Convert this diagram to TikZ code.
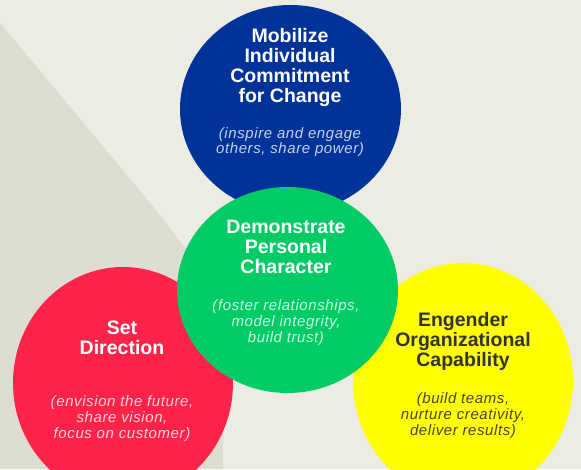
\documentclass[tikz,border=0pt]{standalone}
\usepackage{fontspec}
\setmainfont{Liberation Sans}
\newfontfamily\hdfont{Liberation Sans}
\newfontfamily\subfont[LetterSpace=4]{Liberation Sans}
\definecolor{bgC}{HTML}{ECEBE4}
\definecolor{bgDark}{HTML}{DDDDD1}
\definecolor{blueC}{HTML}{003399}
\definecolor{greenC}{HTML}{00CC66}
\definecolor{redC}{HTML}{FF2249}
\definecolor{yellowC}{HTML}{FFFF00}
\definecolor{darkT}{HTML}{333333}
\tikzset{
  ttl/.style={anchor=base, inner sep=0pt, font=\hdfont\bfseries\fontsize{19.5}{20}\selectfont},
  sub/.style={anchor=base, inner sep=0pt, font=\subfont\itshape\fontsize{15}{16}\selectfont},
}
\begin{document}
\begin{tikzpicture}[x=1pt,y=-1pt]
\useasboundingbox (0,0) rectangle (581,469);
\fill[bgC] (0,0) rectangle (581,469);
\fill[bgDark] (0,23) -- (150,203) .. controls (185,248) and (223,290) .. (223,340) -- (223,469) -- (0,469) -- cycle;
% circles
\fill[redC] (123,383) ellipse [x radius=110pt, y radius=116pt];
\fill[yellowC] (463,381) ellipse [x radius=110pt, y radius=118pt];
\fill[blueC] (290.5,109) ellipse [x radius=110.5pt, y radius=104pt];
\fill[greenC] (287.5,290) ellipse [x radius=110.5pt, y radius=103pt];
% blue texts
\node[ttl, text=white] (b1) at (290,42) {Mobilize};
\node[ttl, text=white] (b2) at (290,62) {Individual};
\node[ttl, text=white] (b3) at (290,82) {Commitment};
\node[ttl, text=white] (b4) at (290,102) {for Change};
\node[sub, text=white!78!blueC] (b5) at (290,138) {(inspire and engage};
\node[sub, text=white!78!blueC] (b6) at (290,153) {others, share power)};
% green texts
\node[ttl, text=white] (g1) at (286,233) {Demonstrate};
\node[ttl, text=white] (g2) at (286,253) {Personal};
\node[ttl, text=white] (g3) at (286,273) {Character};
\node[sub, text=white!80!greenC] (g4) at (286,310) {(foster relationships,};
\node[sub, text=white!80!greenC] (g5) at (286,326) {model integrity,};
\node[sub, text=white!80!greenC] (g6) at (286,342) {build trust)};
% red texts
\node[ttl, text=white] (r1) at (122,334) {Set};
\node[ttl, text=white] (r2) at (122,354) {Direction};
\node[sub, text=white!80!redC] (r3) at (122,406) {(envision the future,};
\node[sub, text=white!80!redC] (r4) at (122,422) {share vision,};
\node[sub, text=white!80!redC] (r5) at (122,438) {focus on customer)};
% yellow texts
\node[ttl, text=darkT] (y1) at (463,326) {Engender};
\node[ttl, text=darkT] (y2) at (463,346) {Organizational};
\node[ttl, text=darkT] (y3) at (463,366) {Capability};
\node[sub, text=darkT!90!yellowC] (y4) at (463,403) {(build teams,};
\node[sub, text=darkT!90!yellowC] (y5) at (463,419) {nurture creativity,};
\node[sub, text=darkT!90!yellowC] (y6) at (463,435) {deliver results)};
\end{tikzpicture}
\end{document}
